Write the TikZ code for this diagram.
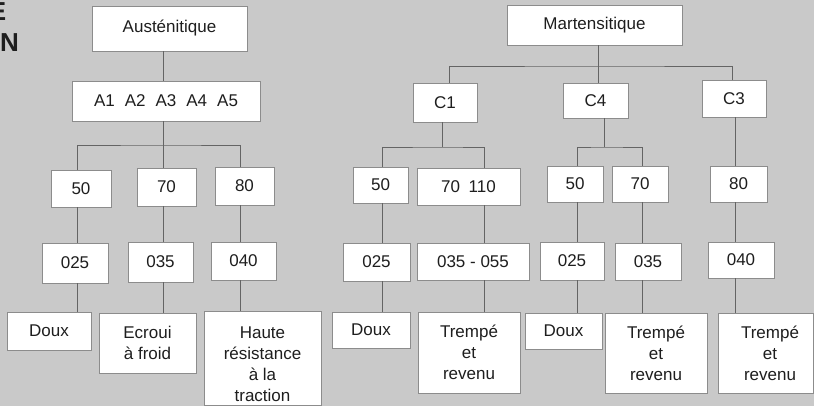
\documentclass[tikz,border=0pt]{standalone}
\usepackage{fontspec}
\setmainfont{Liberation Sans}
\definecolor{bgc}{HTML}{C9C9C9}
\definecolor{boxc}{HTML}{8C8C8C}
\definecolor{linec}{HTML}{646464}
\definecolor{txtc}{HTML}{1E1E1E}
\newcommand\fsz{\fontsize{17}{21}\selectfont}
\tikzset{
  box/.style={draw=boxc, fill=white, line width=0.8pt, inner sep=0pt, font=\fsz, text=txtc, align=center},
  lbl/.style={inner sep=0pt, font=\fsz, text=txtc, align=center},
  link/.style={draw=linec, line width=0.9pt},
  ttl/.style={inner sep=0pt, anchor=base east, text=txtc, font=\bfseries\fontsize{26}{26}\selectfont}
}
\newcommand\bx[6]{\node[box, minimum width=#4, minimum height=#5] (#1) at (#2,#3) {#6};}
\begin{document}
\begin{tikzpicture}[x=1pt,y=-1pt]
\useasboundingbox (0,0) rectangle (814,406);
\fill[bgc] (0,0) rectangle (814,406);
% clipped title letters
\node[ttl] (te) at (6.5,21) {E};
\node[ttl] (tn) at (19,52) {N};
% left tree
\bx{aus}{169.5}{28.5}{155}{45}{Austénitique}
\bx{aa}{166}{101}{188}{40}{A1\hspace{10pt}A2\hspace{10pt}A3\hspace{10pt}A4\hspace{10pt}A5}
\bx{n50}{81}{188.5}{60}{37}{50}
\bx{n70}{166.5}{187}{59}{38}{70}
\bx{n80}{244.5}{186}{59}{38}{80}
\bx{d025}{75}{263}{66}{40}{025}
\bx{d035}{160.5}{262}{65}{40}{035}
\bx{d040}{243.5}{261}{65}{38}{040}
\bx{douxA}{49}{331}{84}{38}{Doux}
\bx{ecr}{147.5}{343}{97}{60}{Ecroui\\à froid}
\bx{hau}{262.5}{358}{117}{94}{}
\node[lbl] (haut) at (262.5,364.5) {Haute\\résistance\\à la\\traction};
% right tree
\bx{mar}{594.5}{25}{175}{40}{Martensitique}
\bx{c1}{445}{102.5}{64}{39}{C1}
\bx{c4}{595.5}{100.5}{65}{35}{C4}
\bx{c3}{734}{98.5}{64}{37}{C3}
\bx{m50}{380.5}{185}{55}{36}{50}
\bx{m70}{468.5}{186.5}{103}{37}{70\hspace{8.5pt}110}
\bx{e025}{376.5}{262}{67}{38}{025}
\bx{e035}{473}{261.5}{112}{37}{035 - 055}
\bx{douxB}{371}{330}{78}{36}{Doux}
\bx{trB}{469}{352.5}{102}{81}{Trempé\\et\\revenu}
\bx{p50}{575}{184}{56}{36}{50}
\bx{p70}{640}{184}{56}{36}{70}
\bx{q80}{738.5}{184}{57}{36}{80}
\bx{f025}{572}{261}{64}{38}{025}
\bx{f035}{648}{261.5}{66}{37}{035}
\bx{g040}{741}{260}{66}{36}{040}
\bx{douxC}{563.5}{331}{77}{36}{Doux}
\bx{trC}{656}{353}{102}{80}{Trempé\\et\\revenu}
\bx{trD}{765.75}{353}{95.5}{80}{}
\node[lbl] (trDt) at (770,353) {Trempé\\et\\revenu};
% column coordinates
\coordinate (xa) at (77,0);
\coordinate (xb) at (163,0);
\coordinate (xc) at (240,0);
\coordinate (xd) at (382,0);
\coordinate (xe) at (484,0);
\coordinate (xg) at (449,0);
\coordinate (xi) at (732,0);
\coordinate (xj) at (577,0);
\coordinate (xk) at (642,0);
\coordinate (xm) at (735,0);
\coordinate (bl) at (163,145);
\coordinate (br) at (598,66);
\coordinate (bc1) at (442,147);
\coordinate (bc4) at (604,147);
% left connectors
\draw[link] (aus.south -| xb) -- (aa.north -| xb);
\draw[link] (aa.south -| bl) -- (n70.north -| bl);
\draw[link] (n50.north -| xa) |- (bl) -| (n80.north -| xc);
\draw[link] (n50.south -| xa) -- (d025.north -| xa);
\draw[link] (n70.south -| xb) -- (d035.north -| xb);
\draw[link] (n80.south -| xc) -- (d040.north -| xc);
\draw[link] (d025.south -| xa) -- (douxA.north -| xa);
\draw[link] (d035.south -| xb) -- (ecr.north -| xb);
\draw[link] (d040.south -| xc) -- (hau.north -| xc);
% right connectors
\draw[link] (mar.south -| br) -- (c4.north -| br);
\draw[link] (c1.north -| xg) |- (br) -| (c3.north -| xi);
\draw[link] (c1.south -| bc1) -- (bc1);
\draw[link] (m50.north -| xd) |- (bc1) -| (m70.north -| xe);
\draw[link] (m50.south -| xd) -- (e025.north -| xd);
\draw[link] (m70.south -| xe) -- (e035.north -| xe);
\draw[link] (e025.south -| xd) -- (douxB.north -| xd);
\draw[link] (e035.south -| xe) -- (trB.north -| xe);
\draw[link] (c4.south -| bc4) -- (bc4);
\draw[link] (p50.north -| xj) |- (bc4) -| (p70.north -| xk);
\draw[link] (p50.south -| xj) -- (f025.north -| xj);
\draw[link] (p70.south -| xk) -- (f035.north -| xk);
\draw[link] (f025.south -| xj) -- (douxC.north -| xj);
\draw[link] (f035.south -| xk) -- (trC.north -| xk);
\draw[link] (c3.south -| xm) -- (q80.north -| xm);
\draw[link] (q80.south -| xm) -- (g040.north -| xm);
\draw[link] (g040.south -| xm) -- (trD.north -| xm);
\end{tikzpicture}
\end{document}
